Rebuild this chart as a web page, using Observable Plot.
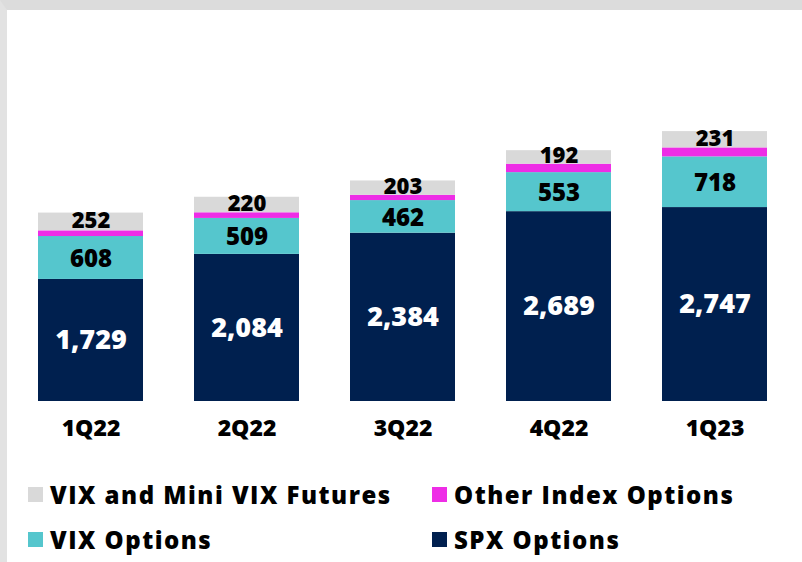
<!DOCTYPE html>
<html>
<head>
<meta charset="utf-8">
<script src="https://cdn.jsdelivr.net/npm/d3@7"></script>
<script src="https://cdn.jsdelivr.net/npm/@observablehq/plot@0.6"></script>
<style>
  html, body { margin: 0; padding: 0; background: #fff; }
  #page {
    position: relative; width: 802px; height: 562px; box-sizing: border-box;
    border-top: 10px solid #dcdcdc; border-left: 7px solid #e2e2e2; overflow: hidden;
    font-family: "Open Sans", sans-serif;
  }
  #chart { position: absolute; left: 0; top: 0; }
  .leg { position: absolute; display: flex; align-items: center; font-weight: 800; font-size: 24px; letter-spacing: 1.5px; color: #000; white-space: nowrap; }
  .leg .sw { width: 15px; height: 15px; margin-right: 7px; flex: none; }
</style>
</head>
<body>
<div id="page">
  <div id="chart"></div>
  <div id="legend"></div>
</div>
<script>
const quarters = ["1Q22", "2Q22", "3Q22", "4Q22", "1Q23"];
const spxOptions = [1729, 2084, 2384, 2689, 2747];
const vixOptions = [608, 509, 462, 553, 718];
const otherIndexOptions = [80, 80, 75, 119, 127];
const vixFutures = [252, 220, 203, 192, 231];

const seriesNames = ["SPX Options", "VIX Options", "Other Index Options", "VIX and Mini VIX Futures"];
const seriesValues = [spxOptions, vixOptions, otherIndexOptions, vixFutures];
const seriesColors = ["#00204f", "#55c6cd", "#ee2de6", "#d9d9d9"];

const data = [];
seriesNames.forEach((s, i) => quarters.forEach((q, j) => data.push({quarter: q, series: s, value: seriesValues[i][j]})));

const fmt = d3.format(",");
const font = "Open Sans";

const labelOpts = (which, extra) => Plot.stackY({
  x: "quarter", y: "value", z: "series", order: seriesNames,
  text: d => d.series === which ? fmt(d.value) : "",
  fontFamily: font, fontWeight: 800, ...extra
});

const chart = Plot.plot({
  width: 795, height: 440,
  marginTop: 38, marginBottom: 49, marginLeft: 0, marginRight: 4,
  style: {background: "transparent", fontFamily: font},
  x: {domain: quarters, paddingInner: 0.329, paddingOuter: 0.192, label: null},
  y: {domain: [0, 5000], axis: null},
  color: {domain: seriesNames, range: seriesColors},
  marks: [
    Plot.barY(data, Plot.stackY({x: "quarter", y: "value", z: "series", order: seriesNames, fill: "series"})),
    Plot.text(data, labelOpts("SPX Options", {fill: "white", fontSize: 27})),
    Plot.text(data, labelOpts("VIX Options", {fill: "black", fontSize: 24, dy: 1})),
    Plot.text(data, labelOpts("VIX and Mini VIX Futures", {fill: "black", fontSize: 22, dy: -1})),
    Plot.axisX({tickSize: 0, tickPadding: 18, fontSize: 23, fontWeight: 800, fill: "black", label: null})
  ]
});
document.getElementById("chart").appendChild(chart);

// legend
const legendPos = [
  {name: "VIX and Mini VIX Futures", left: 21, top: 478},
  {name: "Other Index Options", left: 425, top: 478},
  {name: "VIX Options", left: 21, top: 523},
  {name: "SPX Options", left: 425, top: 523}
];
const leg = document.getElementById("legend");
legendPos.forEach(p => {
  const i = seriesNames.indexOf(p.name);
  const el = document.createElement("div");
  el.className = "leg";
  el.style.left = p.left + "px";
  el.style.top = (p.top - 10) + "px";
  el.innerHTML = `<span class="sw" style="background:${seriesColors[i]}"></span><span>${p.name}</span>`;
  leg.appendChild(el);
});
</script>
</body>
</html>
